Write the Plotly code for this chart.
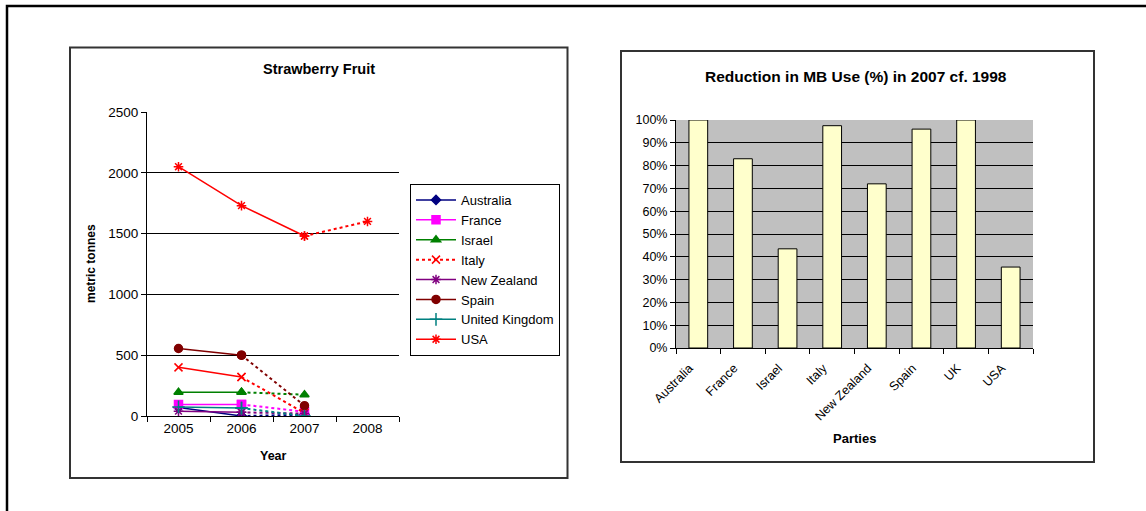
import plotly.graph_objects as go

W, H = 1146, 511

# ---- Strawberry fruit: methyl bromide use, metric tonnes ----
years = ["2005", "2006", "2007", "2008"]
countries = ["Australia", "France", "Israel", "Italy", "New Zealand",
             "Spain", "United Kingdom", "USA"]
australia = [70, 0, 10, None]
france = [95, 95, 35, None]
israel = [195, 195, 175, None]
italy = [400, 320, 25, None]
new_zealand = [40, 30, 20, None]
spain = [555, 500, 85, None]
united_kingdom = [75, 65, 0, None]
usa = [2050, 1730, 1480, 1600]
# index of the last year drawn with a solid line (later years dotted)
last_solid = [1, 1, 1, 1, 1, 1, 1, 2]

# ---- Reduction in MB use 2007 vs 1998 ----
parties = ["Australia", "France", "Israel", "Italy", "New Zealand",
           "Spain", "UK", "USA"]
reduction = [1.00, 0.83, 0.435, 0.975, 0.72, 0.96, 1.00, 0.355]

series = [australia, france, israel, italy, new_zealand, spain,
          united_kingdom, usa]
colors = ["#000080", "#FF00FF", "#008000", "#FF0000", "#800080",
          "#800000", "#008080", "#FF0000"]
symbols = ["diamond", "square", "triangle-up", "x-thin-open",
           "asterisk-open", "circle", "cross-thin-open", "asterisk-open"]
sizes = [7, 8, 8, 8, 8, 8, 9, 8]
legend_dotted = ["Italy"]

FONT = "Liberation Sans, Arial, sans-serif"


def px(x):
    """pixel column -> paper x"""
    return x / W


def py(y):
    """pixel row -> paper y"""
    return 1 - y / H


fig = go.Figure()

for name, vals, col, sym, sz, ls in zip(countries, series, colors, symbols,
                                        sizes, last_solid):
    n = len([v for v in vals if v is not None])
    marker = dict(symbol=sym, size=sz, color=col,
                  line=dict(color=col, width=1.5))
    fig.add_trace(go.Scatter(
        x=years[:ls + 1], y=vals[:ls + 1], name=name, legendgroup=name,
        mode="lines+markers", line=dict(color=col, width=1.5),
        marker=marker, showlegend=name not in legend_dotted,
        xaxis="x", yaxis="y"))
    fig.add_trace(go.Scatter(
        x=years[ls:n], y=vals[ls:n], name=name, legendgroup=name,
        mode="lines+markers", line=dict(color=col, width=2, dash="dot"),
        marker=marker, showlegend=name in legend_dotted,
        xaxis="x", yaxis="y"))

fig.add_trace(go.Bar(
    x=parties, y=reduction, width=0.42, showlegend=False,
    marker=dict(color="#FFFFCC", line=dict(color="#000000", width=1)),
    xaxis="x2", yaxis="y2"))

axis_common = dict(showline=True, linecolor="#000000", linewidth=1,
                   ticks="outside", ticklen=5, tickcolor="#000000",
                   zeroline=False)

shapes = [
    # outer frame
    dict(type="rect", xref="paper", yref="paper", x0=px(7), y0=py(600),
         x1=px(1300), y1=py(6), line=dict(color="#000000", width=2.5)),
    # chart boxes
    dict(type="rect", xref="paper", yref="paper", x0=px(70), y0=py(478),
         x1=px(567.5), y1=py(47.5), line=dict(color="#333333", width=2)),
    dict(type="rect", xref="paper", yref="paper", x0=px(621), y0=py(462),
         x1=px(1094), y1=py(51), line=dict(color="#333333", width=2)),
    # grey plot area of the bar chart
    dict(type="rect", xref="x2 domain", yref="y2 domain", x0=0, y0=0,
         x1=1, y1=1, fillcolor="#C0C0C0", line=dict(width=0),
         layer="below"),
]

annotations = [
    dict(text="<b>Strawberry Fruit</b>", x=px(319), y=py(69),
         font=dict(size=14.5)),
    dict(text="<b>metric tonnes</b>", x=px(91), y=py(264), textangle=-90,
         font=dict(size=12)),
    dict(text="<b>Year</b>", x=px(273), y=py(456), font=dict(size=12.5)),
    dict(text="<b>Reduction in MB Use (%) in 2007 cf. 1998</b>",
         x=px(856), y=py(76), font=dict(size=15.5)),
    dict(text="<b>Parties</b>", x=px(854), y=py(438),
         font=dict(size=13)),
]
for a in annotations:
    a.update(xref="paper", yref="paper", showarrow=False,
             xanchor="center", yanchor="middle")
    a["font"].update(family=FONT, color="#000000")

fig.update_layout(
    width=W, height=H,
    margin=dict(l=0, r=0, t=0, b=0, pad=0, autoexpand=False),
    paper_bgcolor="#FFFFFF",
    plot_bgcolor="rgba(0,0,0,0)",
    font=dict(family=FONT, size=13, color="#000000"),
    xaxis=dict(domain=[px(147), px(399)], type="category",
               range=[-0.5, 3.5], tickson="boundaries", showgrid=False,
               tickfont=dict(size=13.5), **axis_common),
    yaxis=dict(domain=[py(416), py(112)], range=[0, 2500], dtick=500,
               showgrid=True, gridcolor="#000000", gridwidth=1,
               tickfont=dict(size=13.5), **axis_common),
    xaxis2=dict(domain=[px(676), px(1033)], type="category",
                range=[-0.5, 7.5], tickson="boundaries", showgrid=False,
                tickangle=-45, tickfont=dict(size=12.5), anchor="y2",
                ticklabelstandoff=7, ticklabelshift=-9, **axis_common),
    yaxis2=dict(domain=[py(348), py(120)], range=[0, 1], dtick=0.1,
                tickformat=".0%", showgrid=True, gridcolor="#000000",
                gridwidth=1, tickfont=dict(size=12.5), anchor="x2",
                **axis_common),
    legend=dict(x=px(410), y=py(184), xanchor="left", yanchor="top",
                bordercolor="#000000", borderwidth=1, bgcolor="#FFFFFF",
                font=dict(size=13), tracegroupgap=0,
                itemwidth=40),
    shapes=shapes,
    annotations=annotations,
    bargap=0.58,
)

fig.write_html("out.html")
